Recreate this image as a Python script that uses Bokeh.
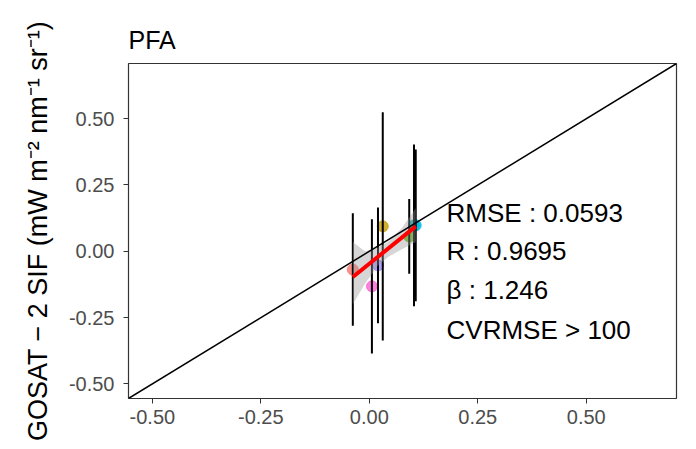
from bokeh.plotting import figure
from bokeh.models import (ColumnDataSource, FixedTicker, NumeralTickFormatter,
                          Slope, Range1d, Label)
from bokeh.embed import file_html
from bokeh.resources import INLINE

# ---- data ----
sites = ["s1", "s2", "s3", "s4", "s5", "s6", "s7"]
colors = ["#F8766D", "#C49A00", "#53B400", "#00C094", "#00B6EB", "#A58AFF", "#FB61D7"]
tropomi = [-0.038, 0.031, 0.092, 0.103, 0.107, 0.020, 0.006]
gosat = [-0.069, 0.094, 0.056, 0.098, 0.098, -0.053, -0.132]
gosat_sd = [0.212, 0.430, 0.141, 0.305, 0.286, 0.218, 0.253]

fit_x = [-0.038, 0.107]
fit_y = [-0.097, 0.094]
band_x = [-0.038, -0.010, 0.020, 0.045, 0.075, 0.107]
band_lo = [-0.200, -0.122, -0.054, -0.020, 0.008, 0.035]
band_hi = [0.035, 0.000, 0.014, 0.038, 0.088, 0.162]

ticks = [-0.5, -0.25, 0.0, 0.25, 0.5]
stats = ["RMSE : 0.0593", "R : 0.9695", "\u03b2 : 1.246", "CVRMSE > 100"]
stat_y = [0.143, 0.0, -0.147, -0.297]

lo = [g - s for g, s in zip(gosat, gosat_sd)]
hi = [g + s for g, s in zip(gosat, gosat_sd)]

FONT = "Liberation Sans"

p = figure(width=696, height=449, output_backend="svg", toolbar_location=None,
           x_range=Range1d(-0.555, 0.708), y_range=Range1d(-0.555, 0.708),
           min_border_left=128, min_border_right=20, min_border_top=63,
           min_border_bottom=51, title="PFA")

p.background_fill_color = "white"
p.border_fill_color = "white"
p.xgrid.visible = False
p.ygrid.visible = False
p.outline_line_color = "#333333"
p.outline_line_width = 1.2

p.title.text_font = FONT
p.title.text_font_size = "25px"
p.title.text_font_style = "normal"
p.title.text_color = "black"
p.title.align = "left"
p.title.standoff = 20

for ax in (p.xaxis[0], p.yaxis[0]):
    ax.ticker = FixedTicker(ticks=ticks)
    ax.formatter = NumeralTickFormatter(format="0.00")
    ax.major_label_text_font = FONT
    ax.major_label_text_font_size = "20px"
    ax.major_label_text_color = "#4D4D4D"
    ax.major_tick_line_color = "#333333"
    ax.major_tick_in = 0
    ax.major_tick_out = 5
    ax.minor_tick_line_color = None
    ax.axis_line_color = None

p.yaxis[0].axis_label = "GOSAT \u2212 2 SIF (mW m\u207b\u00b2 nm\u207b\u00b9 sr\u207b\u00b9)"
p.yaxis[0].axis_label_text_font = FONT
p.yaxis[0].axis_label_text_font_size = "27px"
p.yaxis[0].axis_label_text_font_style = "normal"
p.yaxis[0].axis_label_text_color = "black"
p.yaxis[0].axis_label_standoff = 13
p.yaxis[0].major_label_standoff = 9
p.xaxis[0].major_label_standoff = 6

src = ColumnDataSource(dict(x=tropomi, y=gosat, lo=lo, hi=hi, c=colors))

p.scatter("x", "y", source=src, size=11, color="c", alpha=0.8)
p.segment(x0="x", y0="lo", x1="x", y1="hi", source=src, line_color="black", line_width=2)

p.varea(x=band_x, y1=band_lo, y2=band_hi, fill_color="#999999", fill_alpha=0.4)
p.line(fit_x, fit_y, line_color="red", line_width=4)

p.add_layout(Slope(gradient=1, y_intercept=0, line_color="black", line_width=1.5))

for s, yy in zip(stats, stat_y):
    p.add_layout(Label(x=0.178, y=yy, text=s, text_font=FONT, text_font_size="26px",
                       text_color="black", text_baseline="middle", text_align="left"))

open("out.html", "w").write(file_html(p, INLINE))
